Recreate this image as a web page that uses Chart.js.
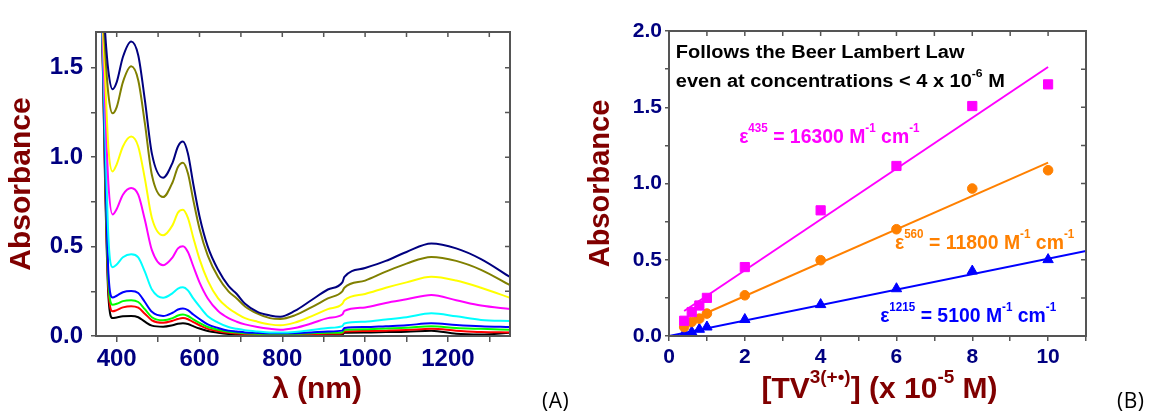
<!DOCTYPE html>
<html>
<head>
<meta charset="utf-8">
<script src="https://cdn.jsdelivr.net/npm/chart.js@4.4.1/dist/chart.umd.min.js"></script>
<style>
  body { margin: 0; background: #fff; width: 1153px; height: 412px; overflow: hidden; position: relative; }
  #left { position: absolute; left: 0; top: 0; }
  #right { position: absolute; left: 580px; top: 0; }
  .panel { position: absolute; font-family: "Open Sans", Lato, sans-serif; font-size: 21px; color: #000; line-height: 24px; letter-spacing: 0.5px; }
</style>
</head>
<body>
<canvas id="left" width="560" height="412" style="width:560px;height:412px"></canvas>
<canvas id="right" width="573" height="412" style="width:573px;height:412px"></canvas>
<div class="panel" style="left:542px; top:388px">(A)</div>
<div class="panel" style="left:1117px; top:388px">(B)</div>
<script>
// ---- panel A: spectra ----
const wavelengths = [350, 365, 372, 380, 390, 400, 415, 435, 452, 468, 485, 512, 535, 548, 560, 572, 585, 600, 620, 645, 670, 690, 710, 740, 770, 795, 830, 870, 910, 945, 950, 1000, 1050, 1100, 1160, 1220, 1280, 1350];
const absNavy = [3.5, 2.0, 1.7, 1.48, 1.38, 1.42, 1.56, 1.647, 1.57, 1.32, 1.02, 0.885, 0.97, 1.06, 1.087, 1.02, 0.85, 0.67, 0.5, 0.37, 0.28, 0.235, 0.18, 0.135, 0.115, 0.108, 0.14, 0.2, 0.26, 0.3, 0.33, 0.38, 0.42, 0.47, 0.517, 0.49, 0.43, 0.33];
const absOlive = [3.5, 1.95, 1.6, 1.35, 1.245, 1.28, 1.42, 1.508, 1.43, 1.19, 0.9, 0.777, 0.86, 0.945, 0.969, 0.91, 0.76, 0.6, 0.45, 0.33, 0.25, 0.21, 0.165, 0.125, 0.1, 0.095, 0.115, 0.16, 0.21, 0.25, 0.27, 0.31, 0.36, 0.405, 0.442, 0.42, 0.37, 0.284];
const absYellow = [3.5, 1.85, 1.45, 1.05, 0.92, 0.96, 1.06, 1.115, 1.06, 0.88, 0.66, 0.563, 0.62, 0.69, 0.706, 0.66, 0.55, 0.43, 0.31, 0.21, 0.155, 0.125, 0.1, 0.08, 0.065, 0.06, 0.075, 0.11, 0.15, 0.18, 0.2, 0.235, 0.27, 0.3, 0.331, 0.31, 0.27, 0.214];
const absMagenta = [3.5, 1.8, 1.3, 0.85, 0.68, 0.71, 0.79, 0.827, 0.79, 0.65, 0.48, 0.396, 0.44, 0.49, 0.502, 0.47, 0.39, 0.3, 0.21, 0.14, 0.1, 0.08, 0.065, 0.05, 0.04, 0.035, 0.045, 0.07, 0.1, 0.12, 0.14, 0.16, 0.185, 0.205, 0.229, 0.2, 0.17, 0.151];
const absCyan = [3.5, 1.75, 1.15, 0.55, 0.385, 0.4, 0.44, 0.457, 0.44, 0.36, 0.26, 0.214, 0.24, 0.265, 0.272, 0.255, 0.21, 0.165, 0.11, 0.075, 0.05, 0.04, 0.032, 0.025, 0.02, 0.02, 0.023, 0.033, 0.045, 0.055, 0.07, 0.08, 0.092, 0.105, 0.127, 0.11, 0.09, 0.084];
const absBlue = [3.5, 1.7, 1.0, 0.35, 0.215, 0.225, 0.245, 0.251, 0.24, 0.19, 0.135, 0.112, 0.13, 0.148, 0.154, 0.145, 0.12, 0.095, 0.065, 0.045, 0.03, 0.025, 0.02, 0.017, 0.015, 0.015, 0.016, 0.02, 0.025, 0.03, 0.045, 0.05, 0.055, 0.06, 0.071, 0.062, 0.055, 0.05];
const absGreen = [3.5, 1.7, 0.95, 0.3, 0.175, 0.18, 0.195, 0.2, 0.19, 0.15, 0.105, 0.088, 0.1, 0.115, 0.12, 0.112, 0.093, 0.073, 0.05, 0.035, 0.024, 0.02, 0.016, 0.013, 0.012, 0.012, 0.013, 0.016, 0.018, 0.02, 0.035, 0.038, 0.042, 0.046, 0.055, 0.045, 0.04, 0.035];
const absRed = [3.5, 1.7, 0.9, 0.26, 0.138, 0.145, 0.16, 0.167, 0.158, 0.125, 0.088, 0.074, 0.085, 0.095, 0.1, 0.094, 0.078, 0.06, 0.04, 0.027, 0.018, 0.014, 0.011, 0.009, 0.008, 0.008, 0.009, 0.01, 0.012, 0.014, 0.025, 0.028, 0.03, 0.033, 0.04, 0.03, 0.022, 0.02];
const absBlack = [3.5, 1.7, 0.85, 0.22, 0.1, 0.104, 0.11, 0.112, 0.105, 0.08, 0.058, 0.052, 0.06, 0.068, 0.071, 0.067, 0.055, 0.042, 0.028, 0.018, 0.011, 0.008, 0.006, 0.005, 0.004, 0.004, 0.004, 0.005, 0.007, 0.008, 0.018, 0.02, 0.022, 0.024, 0.03, 0.012, 0.008, 0.018];
const leftXTicks = [400, 500, 600, 700, 800, 900, 1000, 1100, 1200, 1300];
const leftYTicks = [0, 0.25, 0.5, 0.75, 1.0, 1.25, 1.5];

// ---- panel B: Beer-Lambert ----
const conc = [0.4, 0.6, 0.8, 1, 2, 4, 6, 8, 10];
const abs435 = [0.10, 0.157, 0.20, 0.25, 0.452, 0.824, 1.115, 1.508, 1.65];
const abs560 = [0.059, 0.092, 0.114, 0.147, 0.267, 0.497, 0.70, 0.967, 1.087];
const abs1215 = [0.015, 0.026, 0.044, 0.059, 0.108, 0.206, 0.31, 0.426, 0.501];
const fit435 = [[0.4, 0.164], [10, 1.764]];
const fit560 = [[0.4, 0.087], [10, 1.137]];
const fit1215 = [[0, 0], [11, 0.557]];
const rightXTicks = [0, 1, 2, 3, 4, 5, 6, 7, 8, 9, 10, 11];
const rightYTicks = [0, 0.25, 0.5, 0.75, 1.0, 1.25, 1.5, 1.75, 2.0];

const FONT = '"Liberation Sans", Arial, sans-serif';
Chart.defaults.font.family = FONT;
const TICK_COL = '#000080';
const TITLE_COL = '#800000';
const AXIS_COL = '#555555';

const toXY = (xs, ys) => xs.map((x, i) => ({ x: x, y: ys[i] }));
const pairs = (p) => p.map((d) => ({ x: d[0], y: d[1] }));

// draws text with ^{...} superscripts, sx stretches it sideways
function drawRich(ctx, str, x, y, o) {
  const size = o.size, raise = o.raise || 0.5, sx = o.sx || 1;
  const parts = str.split(/\^\{([^}]*)\}/);
  const fontFor = (sup) => 'bold ' + (sup ? Math.round(size * 0.62) : size) + 'px ' + FONT;
  let total = 0;
  parts.forEach((t, i) => { ctx.font = fontFor(i % 2 === 1); total += ctx.measureText(t).width; });
  ctx.save();
  ctx.translate(o.align === 'center' ? x - (total * sx) / 2 : x, y);
  ctx.scale(sx, 1);
  ctx.fillStyle = o.color;
  ctx.textAlign = 'left';
  ctx.textBaseline = 'alphabetic';
  let cx = 0;
  parts.forEach((t, i) => {
    const sup = i % 2 === 1;
    ctx.font = fontFor(sup);
    ctx.fillText(t, cx, sup ? -size * raise : 0);
    cx += ctx.measureText(t).width;
  });
  ctx.restore();
}

// box round the plot plus inward ticks on top and right
const framePlugin = {
  id: 'frame',
  afterDraw(chart) {
    const { ctx, chartArea: a, scales } = chart;
    ctx.save();
    ctx.strokeStyle = AXIS_COL;
    ctx.lineWidth = 2;
    ctx.strokeRect(a.left, a.top, a.right - a.left, a.bottom - a.top);
    ctx.beginPath();
    ctx.lineWidth = 1.5;
    scales.x.ticks.forEach((t) => {
      const px = scales.x.getPixelForValue(t.value);
      ctx.moveTo(px, a.top);
      ctx.lineTo(px, a.top + 5);
    });
    scales.y.ticks.forEach((t) => {
      const py = scales.y.getPixelForValue(t.value);
      ctx.moveTo(a.right, py);
      ctx.lineTo(a.right - 5, py);
    });
    ctx.stroke();
    ctx.restore();
  },
};

// x axis title drawn by hand (superscripts, small offset)
const xTitlePlugin = {
  id: 'xTitle',
  afterDraw(chart, args, opts) {
    const a = chart.chartArea;
    drawRich(chart.ctx, opts.text, (a.left + a.right) / 2 + opts.dx, opts.y,
      { size: opts.size, color: TITLE_COL, align: 'center', raise: 0.5 });
  },
};

function axis(opts) {
  return {
    type: 'linear',
    min: opts.min,
    max: opts.max,
    afterBuildTicks: (s) => { s.ticks = opts.ticks.map((v) => ({ value: v })); },
    afterFit: opts.fit,
    ticks: {
      autoSkip: false,
      maxRotation: 0,
      padding: opts.pad,
      color: TICK_COL,
      font: { size: opts.size, weight: 'bold' },
      callback: opts.label,
    },
    grid: { drawOnChartArea: false, tickLength: opts.tl, color: AXIS_COL, lineWidth: 1.5 },
    border: { display: false },
    title: opts.title,
  };
}

const spectra = [
  [absNavy, '#000080'], [absOlive, '#808000'], [absYellow, '#FFFF00'],
  [absMagenta, '#FF00FF'], [absCyan, '#00FFFF'], [absBlue, '#0000FF'],
  [absGreen, '#00FF00'], [absRed, '#FF0000'], [absBlack, '#000000'],
];

new Chart(document.getElementById('left'), {
  type: 'line',
  data: {
    datasets: spectra.map(([vals, col]) => ({
      data: toXY(wavelengths, vals),
      borderColor: col,
      borderWidth: 2,
      pointRadius: 0,
      cubicInterpolationMode: 'monotone',
    })),
  },
  options: {
    responsive: false,
    animation: false,
    layout: { padding: { top: 32, right: 50, bottom: 0, left: 0 } },
    plugins: {
      legend: { display: false },
      tooltip: { enabled: false },
      xTitle: { text: 'λ (nm)', dx: 14, y: 398, size: 30 },
    },
    scales: {
      x: axis({
        min: 350, max: 1350, ticks: leftXTicks, size: 24, pad: 3, tl: 6,
        label: (v) => (v % 200 === 0 ? v : ''),
        fit: (s) => { s.height = 76; },
        title: { display: false },
      }),
      y: axis({
        min: 0, max: 1.7, ticks: leftYTicks, size: 24, pad: 8, tl: 5,
        label: (v) => (Math.round(v * 100) % 50 === 0 ? v.toFixed(1) : ''),
        fit: (s) => { s.width = 96; },
        title: { display: true, text: 'Absorbance', color: TITLE_COL, font: { size: 30, weight: 'bold' }, padding: { top: 4, bottom: 0 } },
      }),
    },
  },
  plugins: [framePlugin, xTitlePlugin],
});

// notes of panel B, placed in data units
const notes = [
  { text: 'Follows the Beer Lambert Law', x: 0.18, y: 1.826, color: '#000000', size: 18, sx: 1.11 },
  { text: 'even at concentrations < 4 x 10^{-6} M', x: 0.18, y: 1.633, color: '#000000', size: 18, sx: 1.11 },
  { text: 'ε^{435} = 16300 M^{-1} cm^{-1}', x: 1.85, y: 1.268, color: '#FF00FF', size: 20, sx: 0.97 },
  { text: 'ε^{560} = 11800 M^{-1} cm^{-1}', x: 5.96, y: 0.573, color: '#FF8000', size: 20, sx: 0.97 },
  { text: 'ε^{1215} = 5100 M^{-1} cm^{-1}', x: 5.57, y: 0.092, color: '#0000FF', size: 20, sx: 0.97 },
];

const notesPlugin = {
  id: 'notes',
  afterDraw(chart) {
    const { ctx, scales } = chart;
    notes.forEach((n) => {
      drawRich(ctx, n.text, scales.x.getPixelForValue(n.x), scales.y.getPixelForValue(n.y),
        { size: n.size, color: n.color, sx: n.sx, raise: 0.55 });
    });
  },
};

new Chart(document.getElementById('right'), {
  type: 'scatter',
  data: {
    datasets: [
      { data: toXY(conc, abs435), backgroundColor: '#FF00FF', borderColor: '#FF00FF', pointStyle: 'rect', pointRadius: 6.5 },
      { data: toXY(conc, abs560), backgroundColor: '#FF8000', borderColor: '#FF8000', pointStyle: 'circle', pointRadius: 4.8 },
      { data: toXY(conc, abs1215), backgroundColor: '#0000FF', borderColor: '#0000FF', pointStyle: 'triangle', pointRadius: 6 },
      { data: pairs(fit435), showLine: true, borderColor: '#FF00FF', borderWidth: 2, pointRadius: 0 },
      { data: pairs(fit560), showLine: true, borderColor: '#FF8000', borderWidth: 2, pointRadius: 0 },
      { data: pairs(fit1215), showLine: true, borderColor: '#0000FF', borderWidth: 2, pointRadius: 0 },
    ],
  },
  options: {
    responsive: false,
    animation: false,
    layout: { padding: { top: 31, right: 67, bottom: 0, left: 0 } },
    plugins: {
      legend: { display: false },
      tooltip: { enabled: false },
      xTitle: { text: '[TV^{3(+•)}] (x 10^{-5} M)', dx: 2, y: 398, size: 30 },
    },
    scales: {
      x: axis({
        min: 0, max: 11, ticks: rightXTicks, size: 21, pad: 4, tl: 5,
        label: (v) => (v % 2 === 0 ? v : ''),
        fit: (s) => { s.height = 76; },
        title: { display: false },
      }),
      y: axis({
        min: 0, max: 2, ticks: rightYTicks, size: 21, pad: 3, tl: 4,
        label: (v) => (Math.round(v * 100) % 50 === 0 ? v.toFixed(1) : ''),
        fit: (s) => { s.width = 89; },
        title: { display: true, text: 'Absorbance', color: TITLE_COL, font: { size: 29, weight: 'bold' }, padding: { top: 4, bottom: 0 } },
      }),
    },
  },
  plugins: [framePlugin, xTitlePlugin, notesPlugin],
});
</script>
</body>
</html>
